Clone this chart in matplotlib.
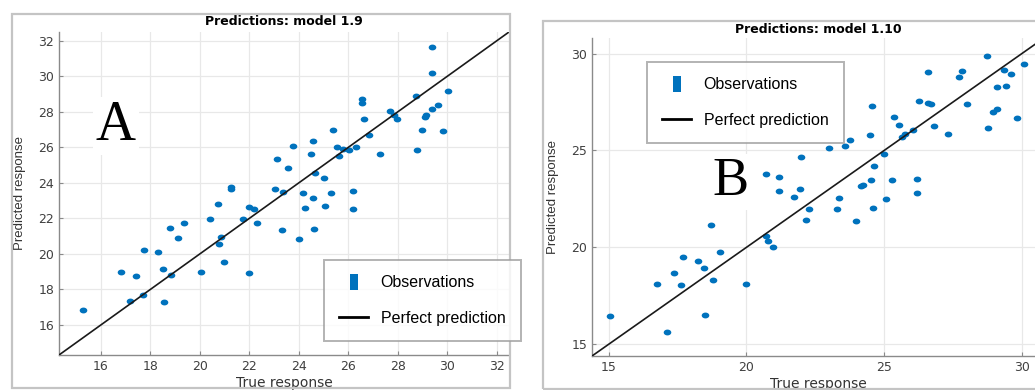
import numpy as np
import matplotlib
matplotlib.use('Agg')
import matplotlib.pyplot as plt
from matplotlib.lines import Line2D
from matplotlib.patches import Rectangle

plt.rcParams['font.family'] = ['DejaVu Sans']

# model 1.9 (panel A): true vs predicted response
true_a = [15.27, 16.81, 17.42, 17.18, 17.71, 17.75, 18.32, 18.52, 18.56, 18.83,
          18.77, 19.10, 19.35, 20.05, 20.41, 20.73, 20.79, 20.86, 20.97, 21.24,
          21.27, 21.74, 21.99, 21.99, 22.19, 22.29, 23.03, 23.36, 23.11, 23.57,
          23.77, 23.32, 24.00, 24.17, 24.25, 24.58, 24.62, 24.50, 24.58, 24.66,
          25.02, 25.06, 25.30, 25.39, 25.55, 25.63, 25.80, 26.04, 26.30, 26.20,
          26.20, 26.57, 26.57, 26.65, 26.85, 27.30, 27.70, 27.83, 27.99, 28.72,
          28.77, 29.00, 29.10, 29.13, 29.37, 29.62, 29.82, 30.02, 29.37, 29.37]
pred_a = [16.84, 18.96, 18.74, 17.34, 17.68, 20.19, 20.13, 19.13, 17.29, 18.79,
          21.47, 20.92, 21.76, 18.96, 21.97, 22.82, 20.58, 20.97, 19.52, 23.77,
          23.65, 21.97, 22.64, 18.91, 22.53, 21.76, 23.66, 23.49, 25.33, 24.81,
          26.10, 21.35, 20.86, 23.43, 22.59, 23.17, 21.41, 25.60, 26.35, 24.55,
          24.27, 22.70, 23.43, 26.95, 26.00, 25.50, 25.90, 25.83, 26.00, 23.54,
          22.53, 28.70, 28.50, 27.57, 26.70, 25.60, 28.07, 27.80, 27.57, 28.87,
          25.83, 27.00, 27.70, 27.80, 28.18, 28.40, 26.90, 29.20, 30.19, 31.64]

# model 1.10 (panel B)
true_b = [15.04, 17.12, 16.75, 17.37, 17.63, 17.70, 18.25, 18.47, 18.80, 18.50,
          18.72, 19.05, 20.00, 20.73, 20.80, 20.95, 20.70, 21.20, 21.20, 21.94,
          21.72, 21.98, 22.27, 22.16, 23.36, 23.29, 23.98, 23.00, 23.58, 23.77,
          24.15, 24.25, 24.50, 24.53, 24.64, 24.57, 24.60, 25.00, 25.07, 25.29,
          25.37, 25.55, 25.63, 25.77, 26.03, 26.20, 26.20, 26.28, 26.58, 26.69,
          26.58, 26.80, 27.31, 27.71, 27.82, 28.00, 28.73, 28.77, 28.95, 29.10,
          29.10, 29.43, 29.36, 29.60, 29.83, 30.08]
pred_b = [16.44, 15.62, 18.13, 18.70, 18.08, 19.50, 19.30, 18.95, 18.34, 16.49,
          21.16, 19.77, 18.13, 20.60, 20.34, 20.03, 23.78, 23.63, 22.91, 23.00,
          22.60, 24.66, 21.98, 21.42, 22.55, 21.98, 21.37, 25.14, 25.24, 25.55,
          23.15, 23.22, 25.78, 23.47, 24.18, 27.30, 22.02, 24.84, 22.50, 23.47,
          26.74, 26.30, 25.70, 25.83, 26.04, 23.52, 22.80, 27.53, 27.43, 27.38,
          29.07, 26.25, 25.83, 28.81, 29.12, 27.38, 29.85, 26.14, 27.00, 27.12,
          28.25, 28.30, 29.17, 28.92, 26.66, 29.48]

W, H = 1035, 390
blue = '#0072BD'
t = np.linspace(0, 2 * np.pi, 40)
dot = np.column_stack([1.3 * np.cos(t), np.sin(t)])
bar = [(-0.5, -1), (0.5, -1), (0.5, 1), (-0.5, 1), (-0.5, -1)]


def box(x0, y0, x1, y1):
    return [x0 / W, 1 - y1 / H, (x1 - x0) / W, (y1 - y0) / H]


fig = plt.figure(figsize=(W / 100, H / 100), dpi=100)

# window frames
for x0, y0, x1, y1 in [(12, 14, 510, 388), (543, 21, 1040, 389)]:
    fig.patches.append(Rectangle((x0 / W, 1 - y1 / H), (x1 - x0) / W, (y1 - y0) / H,
                                 transform=fig.transFigure, fill=False,
                                 edgecolor='#c4c4c4', linewidth=1.6))

panels = [
    dict(pos=box(59, 32, 509, 355), x=true_a, y=pred_a, lim=(14.3, 32.5),
         ticks=np.arange(16, 33, 2), title='Predictions: model 1.9', pad=5,
         letter='A', lxy=(116, 126), lsize=40, leg=(324, 260), ylx=26),
    dict(pos=box(592, 38, 1044, 356), x=true_b, y=pred_b, lim=(14.4, 30.8),
         ticks=[15, 20, 25, 30], title='Predictions: model 1.10', pad=3.5,
         letter='B', lxy=(731, 182), lsize=39, leg=(647, 62), ylx=559),
]

for p in panels:
    ax = fig.add_axes(p['pos'])
    ax.set_xlim(p['lim'])
    ax.set_ylim(p['lim'])
    ax.set_xticks(p['ticks'])
    ax.set_yticks(p['ticks'])
    ax.grid(True, color='#e8e8e8', linewidth=0.9)
    ax.set_axisbelow(True)
    for s in ['top', 'right']:
        ax.spines[s].set_visible(False)
    for s in ['left', 'bottom']:
        ax.spines[s].set_color('#8a8a8a')
        ax.spines[s].set_linewidth(1.0)
    ax.tick_params(direction='in', length=3, colors='#8a8a8a', labelcolor='#404040',
                   labelsize=9)

    ax.scatter(p['x'], p['y'], s=30, marker=dot, color=blue, linewidths=0, zorder=3)
    ax.plot(p['lim'], p['lim'], color='#1a1a1a', linewidth=1.2, zorder=4)

    ax.set_title(p['title'], fontsize=9, fontweight='bold', pad=p['pad'])
    ax.set_xlabel('True response', fontsize=10, color='#333333', labelpad=2)
    ax.yaxis.set_label_coords((p['ylx'] - p['pos'][0] * W) / (p['pos'][2] * W), 0.5)
    ax.set_ylabel('Predicted response', fontsize=9.5, color='#333333',
                  family=['Liberation Sans', 'DejaVu Sans'])

    lx, ly = p['lxy']
    fig.text(lx / W, 1 - ly / H, p['letter'], family=['Liberation Serif', 'DejaVu Serif'],
             fontsize=p['lsize'], ha='center', va='center',
             bbox=dict(facecolor='white', edgecolor='none', pad=2), zorder=5)

    handles = [Line2D([], [], linestyle='none', marker=bar, markersize=11,
                      markerfacecolor=blue, markeredgewidth=0),
               Line2D([], [], color='black', linewidth=2)]
    gx, gy = p['leg']
    leg = fig.legend(handles, ['Observations', 'Perfect prediction'],
                     loc='upper left', bbox_to_anchor=(gx / W, 1 - gy / H),
                     prop=dict(family=['Liberation Sans', 'DejaVu Sans'], size=11.5),
                     frameon=True, fancybox=False, edgecolor='#a0a0a0',
                     handlelength=1.8, handletextpad=0.8, borderpad=0.95,
                     labelspacing=1.3, borderaxespad=0)
    leg.get_frame().set_linewidth(1.4)

fig.savefig('out.png', dpi=100)
